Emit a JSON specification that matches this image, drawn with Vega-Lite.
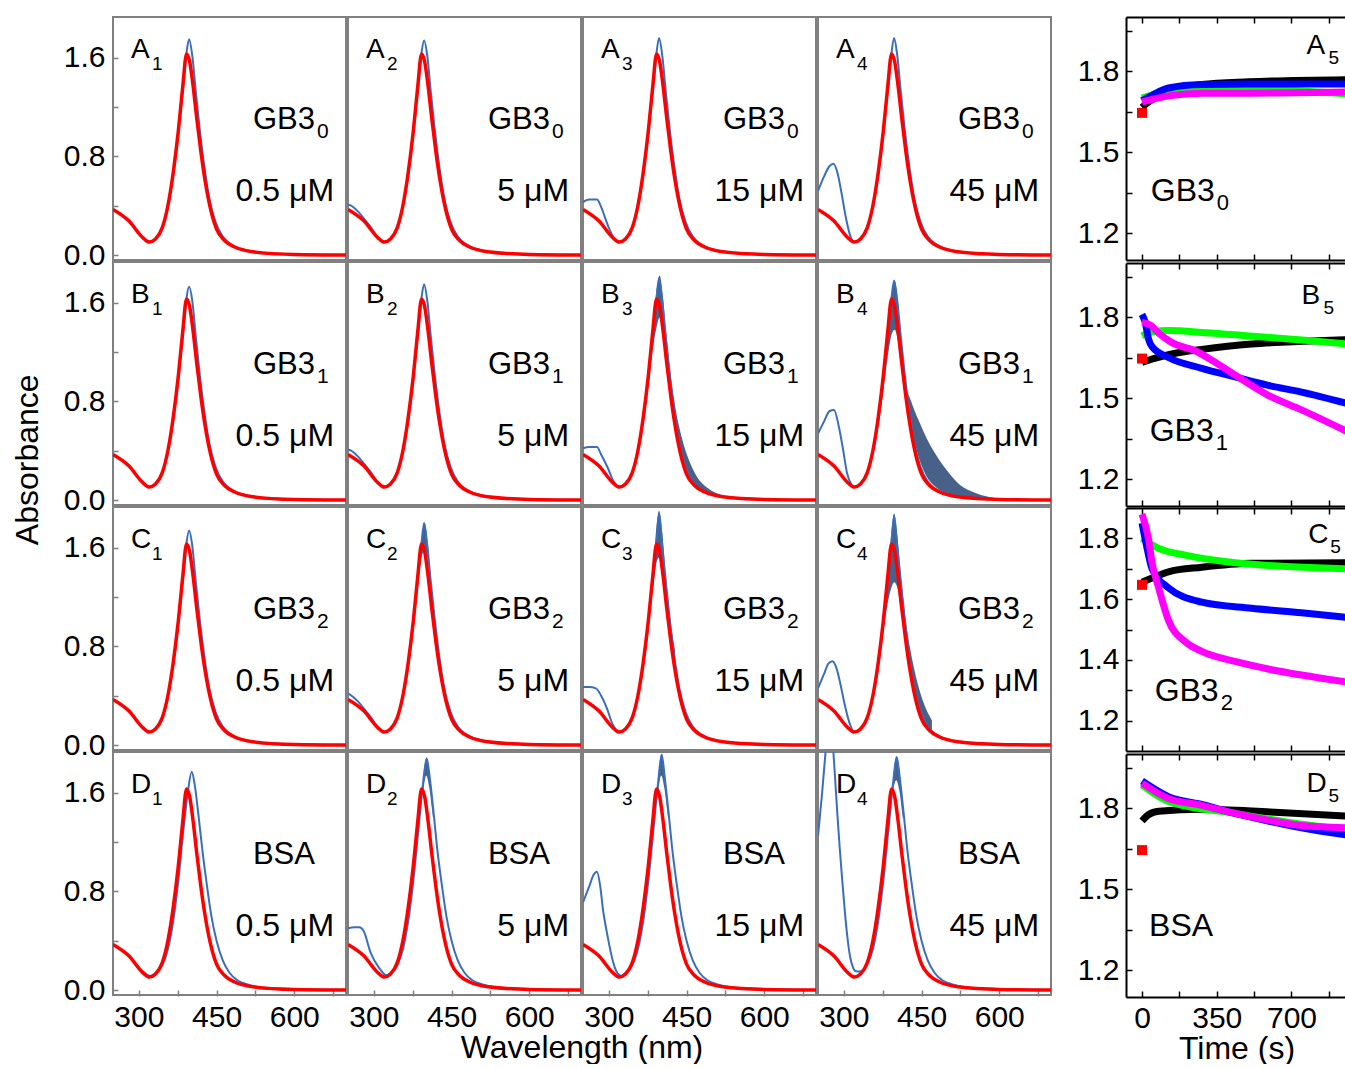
{
"$schema": "https://vega.github.io/schema/vega-lite/v6.json",
"padding": {"left": 12, "top": 15, "right": 0, "bottom": 0},
"title": {"text": "Absorbance", "orient": "left", "anchor": "middle", "fontSize": 32, "fontWeight": "normal", "color": "#000", "font": "Liberation Sans", "offset": 18, "dx": 80},
"config": {
  "font": "Liberation Sans",
  "view": {"stroke": "#808080", "strokeWidth": 2},
  "axis": {"grid": false, "domain": false, "tickSize": -6, "tickWidth": 1.5, "tickColor": "#808080", "labelFontSize": 30, "labelColor": "#000", "labelPadding": 13, "labelOverlap": false, "titleFontSize": 32, "titleFontWeight": "normal", "titleColor": "#000"},
  "header": {"titleFontSize": 32, "titleFontWeight": "normal", "titleColor": "#000", "labels": false},
  "text": {"color": "#000"}
},
"datasets": {
"time": [
{"r":"A","s":"K","t":0,"v":1.665},{"r":"A","s":"K","t":40,"v":1.69},{"r":"A","s":"K","t":124,"v":1.72},{"r":"A","s":"K","t":280,"v":1.75},{"r":"A","s":"K","t":500,"v":1.76},{"r":"A","s":"K","t":960,"v":1.768},
{"r":"A","s":"G","t":0,"v":1.70},{"r":"A","s":"G","t":124,"v":1.725},{"r":"A","s":"G","t":280,"v":1.733},{"r":"A","s":"G","t":500,"v":1.733},{"r":"A","s":"G","t":960,"v":1.715},
{"r":"A","s":"B","t":0,"v":1.69},{"r":"A","s":"B","t":47,"v":1.71},{"r":"A","s":"B","t":124,"v":1.737},{"r":"A","s":"B","t":280,"v":1.75},{"r":"A","s":"B","t":500,"v":1.752},{"r":"A","s":"B","t":960,"v":1.752},
{"r":"A","s":"M","t":0,"v":1.685},{"r":"A","s":"M","t":47,"v":1.695},{"r":"A","s":"M","t":124,"v":1.708},{"r":"A","s":"M","t":280,"v":1.718},{"r":"A","s":"M","t":500,"v":1.718},{"r":"A","s":"M","t":960,"v":1.722},
{"r":"A","s":"S","t":0,"v":1.645},
{"r":"B","s":"K","t":0,"v":1.632},{"r":"B","s":"K","t":50,"v":1.645},{"r":"B","s":"K","t":150,"v":1.665},{"r":"B","s":"K","t":280,"v":1.68},{"r":"B","s":"K","t":513,"v":1.70},{"r":"B","s":"K","t":750,"v":1.71},{"r":"B","s":"K","t":960,"v":1.716},
{"r":"B","s":"G","t":0,"v":1.73},{"r":"B","s":"G","t":50,"v":1.745},{"r":"B","s":"G","t":124,"v":1.75},{"r":"B","s":"G","t":300,"v":1.742},{"r":"B","s":"G","t":500,"v":1.73},{"r":"B","s":"G","t":750,"v":1.715},{"r":"B","s":"G","t":960,"v":1.70},
{"r":"B","s":"B","t":0,"v":1.81},{"r":"B","s":"B","t":15,"v":1.78},{"r":"B","s":"B","t":30,"v":1.72},{"r":"B","s":"B","t":47,"v":1.69},{"r":"B","s":"B","t":124,"v":1.65},{"r":"B","s":"B","t":280,"v":1.61},{"r":"B","s":"B","t":436,"v":1.578},{"r":"B","s":"B","t":591,"v":1.547},{"r":"B","s":"B","t":747,"v":1.522},{"r":"B","s":"B","t":960,"v":1.48},
{"r":"B","s":"M","t":0,"v":1.78},{"r":"B","s":"M","t":40,"v":1.77},{"r":"B","s":"M","t":78,"v":1.74},{"r":"B","s":"M","t":140,"v":1.705},{"r":"B","s":"M","t":249,"v":1.675},{"r":"B","s":"M","t":327,"v":1.64},{"r":"B","s":"M","t":436,"v":1.585},{"r":"B","s":"M","t":591,"v":1.51},{"r":"B","s":"M","t":747,"v":1.456},{"r":"B","s":"M","t":960,"v":1.376},
{"r":"B","s":"S","t":0,"v":1.646},
{"r":"C","s":"K","t":0,"v":1.656},{"r":"C","s":"K","t":50,"v":1.67},{"r":"C","s":"K","t":124,"v":1.69},{"r":"C","s":"K","t":280,"v":1.705},{"r":"C","s":"K","t":513,"v":1.718},{"r":"C","s":"K","t":960,"v":1.72},
{"r":"C","s":"G","t":0,"v":1.80},{"r":"C","s":"G","t":78,"v":1.767},{"r":"C","s":"G","t":202,"v":1.745},{"r":"C","s":"G","t":436,"v":1.72},{"r":"C","s":"G","t":960,"v":1.70},
{"r":"C","s":"B","t":0,"v":1.85},{"r":"C","s":"B","t":20,"v":1.78},{"r":"C","s":"B","t":47,"v":1.70},{"r":"C","s":"B","t":124,"v":1.637},{"r":"C","s":"B","t":280,"v":1.59},{"r":"C","s":"B","t":513,"v":1.57},{"r":"C","s":"B","t":747,"v":1.555},{"r":"C","s":"B","t":960,"v":1.54},
{"r":"C","s":"M","t":0,"v":1.88},{"r":"C","s":"M","t":30,"v":1.80},{"r":"C","s":"M","t":47,"v":1.72},{"r":"C","s":"M","t":78,"v":1.637},{"r":"C","s":"M","t":124,"v":1.53},{"r":"C","s":"M","t":202,"v":1.46},{"r":"C","s":"M","t":280,"v":1.428},{"r":"C","s":"M","t":436,"v":1.395},{"r":"C","s":"M","t":591,"v":1.37},{"r":"C","s":"M","t":747,"v":1.35},{"r":"C","s":"M","t":960,"v":1.327},
{"r":"C","s":"S","t":0,"v":1.647},
{"r":"D","s":"K","t":0,"v":1.752},{"r":"D","s":"K","t":30,"v":1.775},{"r":"D","s":"K","t":78,"v":1.788},{"r":"D","s":"K","t":280,"v":1.795},{"r":"D","s":"K","t":600,"v":1.785},{"r":"D","s":"K","t":960,"v":1.77},
{"r":"D","s":"G","t":0,"v":1.885},{"r":"D","s":"G","t":124,"v":1.824},{"r":"D","s":"G","t":436,"v":1.78},{"r":"D","s":"G","t":747,"v":1.74},{"r":"D","s":"G","t":960,"v":1.72},
{"r":"D","s":"B","t":0,"v":1.90},{"r":"D","s":"B","t":124,"v":1.842},{"r":"D","s":"B","t":280,"v":1.813},{"r":"D","s":"B","t":436,"v":1.78},{"r":"D","s":"B","t":591,"v":1.752},{"r":"D","s":"B","t":747,"v":1.727},{"r":"D","s":"B","t":960,"v":1.70},
{"r":"D","s":"M","t":0,"v":1.892},{"r":"D","s":"M","t":124,"v":1.835},{"r":"D","s":"M","t":280,"v":1.81},{"r":"D","s":"M","t":436,"v":1.78},{"r":"D","s":"M","t":591,"v":1.755},{"r":"D","s":"M","t":747,"v":1.735},{"r":"D","s":"M","t":960,"v":1.727},
{"r":"D","s":"S","t":0,"v":1.644}
],
"spec": [
{"r":"A","c":1,"k":"lab","L":"A","Ls":"1","N":"GB3","Ns":"0","C":"0.5 μM"},
{"r":"A","c":2,"k":"lab","L":"A","Ls":"2","N":"GB3","Ns":"0","C":"5 μM"},
{"r":"A","c":3,"k":"lab","L":"A","Ls":"3","N":"GB3","Ns":"0","C":"15 μM"},
{"r":"A","c":4,"k":"lab","L":"A","Ls":"4","N":"GB3","Ns":"0","C":"45 μM"},
{"r":"B","c":1,"k":"lab","L":"B","Ls":"1","N":"GB3","Ns":"1","C":"0.5 μM"},
{"r":"B","c":2,"k":"lab","L":"B","Ls":"2","N":"GB3","Ns":"1","C":"5 μM"},
{"r":"B","c":3,"k":"lab","L":"B","Ls":"3","N":"GB3","Ns":"1","C":"15 μM"},
{"r":"B","c":4,"k":"lab","L":"B","Ls":"4","N":"GB3","Ns":"1","C":"45 μM"},
{"r":"C","c":1,"k":"lab","L":"C","Ls":"1","N":"GB3","Ns":"2","C":"0.5 μM"},
{"r":"C","c":2,"k":"lab","L":"C","Ls":"2","N":"GB3","Ns":"2","C":"5 μM"},
{"r":"C","c":3,"k":"lab","L":"C","Ls":"3","N":"GB3","Ns":"2","C":"15 μM"},
{"r":"C","c":4,"k":"lab","L":"C","Ls":"4","N":"GB3","Ns":"2","C":"45 μM"},
{"r":"D","c":1,"k":"lab","L":"D","Ls":"1","N":"BSA","Ns":"","C":"0.5 μM"},
{"r":"D","c":2,"k":"lab","L":"D","Ls":"2","N":"BSA","Ns":"","C":"5 μM"},
{"r":"D","c":3,"k":"lab","L":"D","Ls":"3","N":"BSA","Ns":"","C":"15 μM"},
{"r":"D","c":4,"k":"lab","L":"D","Ls":"4","N":"BSA","Ns":"","C":"45 μM"},

{"r":"B","c":3,"k":"band","x":350,"y":0.30,"y2":0.28},{"r":"B","c":3,"k":"band","x":366,"y":0.66,"y2":0.60},{"r":"B","c":3,"k":"band","x":376,"y":1.02,"y2":0.92},{"r":"B","c":3,"k":"band","x":386,"y":1.44,"y2":1.26},{"r":"B","c":3,"k":"band","x":392,"y":1.70,"y2":1.40},{"r":"B","c":3,"k":"band","x":398,"y":1.82,"y2":1.48},{"r":"B","c":3,"k":"band","x":404,"y":1.66,"y2":1.40},{"r":"B","c":3,"k":"band","x":410,"y":1.38,"y2":1.15},{"r":"B","c":3,"k":"band","x":418,"y":1.06,"y2":0.86},{"r":"B","c":3,"k":"band","x":428,"y":0.76,"y2":0.58},{"r":"B","c":3,"k":"band","x":440,"y":0.52,"y2":0.36},{"r":"B","c":3,"k":"band","x":455,"y":0.32,"y2":0.18},{"r":"B","c":3,"k":"band","x":470,"y":0.19,"y2":0.11},{"r":"B","c":3,"k":"band","x":490,"y":0.10,"y2":0.06},{"r":"B","c":3,"k":"band","x":520,"y":0.04,"y2":0.025},
{"r":"B","c":4,"k":"band","x":340,"y":0.20,"y2":0.18},{"r":"B","c":4,"k":"band","x":356,"y":0.40,"y2":0.36},{"r":"B","c":4,"k":"band","x":366,"y":0.66,"y2":0.58},{"r":"B","c":4,"k":"band","x":376,"y":1.02,"y2":0.88},{"r":"B","c":4,"k":"band","x":386,"y":1.42,"y2":1.20},{"r":"B","c":4,"k":"band","x":392,"y":1.66,"y2":1.34},{"r":"B","c":4,"k":"band","x":398,"y":1.78,"y2":1.38},{"r":"B","c":4,"k":"band","x":404,"y":1.62,"y2":1.30},{"r":"B","c":4,"k":"band","x":410,"y":1.32,"y2":1.10},{"r":"B","c":4,"k":"band","x":418,"y":0.98,"y2":0.84},{"r":"B","c":4,"k":"band","x":430,"y":0.80,"y2":0.58},{"r":"B","c":4,"k":"band","x":445,"y":0.64,"y2":0.34},{"r":"B","c":4,"k":"band","x":460,"y":0.50,"y2":0.19},{"r":"B","c":4,"k":"band","x":476,"y":0.38,"y2":0.11},{"r":"B","c":4,"k":"band","x":490,"y":0.29,"y2":0.07},{"r":"B","c":4,"k":"band","x":503,"y":0.22,"y2":0.05},{"r":"B","c":4,"k":"band","x":525,"y":0.12,"y2":0.03},{"r":"B","c":4,"k":"band","x":553,"y":0.06,"y2":0.015},{"r":"B","c":4,"k":"band","x":600,"y":0.01,"y2":0.005},
{"r":"C","c":2,"k":"band","x":386,"y":1.40,"y2":1.32},{"r":"C","c":2,"k":"band","x":392,"y":1.66,"y2":1.52},{"r":"C","c":2,"k":"band","x":398,"y":1.80,"y2":1.58},{"r":"C","c":2,"k":"band","x":404,"y":1.64,"y2":1.50},{"r":"C","c":2,"k":"band","x":410,"y":1.35,"y2":1.25},{"r":"C","c":2,"k":"band","x":418,"y":1.02,"y2":0.95},
{"r":"C","c":3,"k":"band","x":376,"y":1.02,"y2":0.95},{"r":"C","c":3,"k":"band","x":386,"y":1.45,"y2":1.30},{"r":"C","c":3,"k":"band","x":392,"y":1.78,"y2":1.48},{"r":"C","c":3,"k":"band","x":397,"y":1.90,"y2":1.52},{"r":"C","c":3,"k":"band","x":403,"y":1.72,"y2":1.46},{"r":"C","c":3,"k":"band","x":410,"y":1.38,"y2":1.18},{"r":"C","c":3,"k":"band","x":418,"y":1.04,"y2":0.92},{"r":"C","c":3,"k":"band","x":428,"y":0.76,"y2":0.64},
{"r":"C","c":4,"k":"band","x":366,"y":0.66,"y2":0.58},{"r":"C","c":4,"k":"band","x":376,"y":1.03,"y2":0.90},{"r":"C","c":4,"k":"band","x":386,"y":1.46,"y2":1.18},{"r":"C","c":4,"k":"band","x":392,"y":1.74,"y2":1.28},{"r":"C","c":4,"k":"band","x":397,"y":1.88,"y2":1.32},{"r":"C","c":4,"k":"band","x":403,"y":1.70,"y2":1.28},{"r":"C","c":4,"k":"band","x":410,"y":1.38,"y2":1.10},{"r":"C","c":4,"k":"band","x":418,"y":1.06,"y2":0.86},{"r":"C","c":4,"k":"band","x":428,"y":0.78,"y2":0.60},{"r":"C","c":4,"k":"band","x":440,"y":0.54,"y2":0.38},{"r":"C","c":4,"k":"band","x":455,"y":0.33,"y2":0.20},{"r":"C","c":4,"k":"band","x":470,"y":0.20,"y2":0.11},
{"r":"D","c":2,"k":"band","x":395,"y":1.68,"y2":1.60},{"r":"D","c":2,"k":"band","x":401,"y":1.88,"y2":1.74},{"r":"D","c":2,"k":"band","x":407,"y":1.76,"y2":1.64},{"r":"D","c":2,"k":"band","x":414,"y":1.48,"y2":1.40},
{"r":"D","c":3,"k":"band","x":395,"y":1.70,"y2":1.60},{"r":"D","c":3,"k":"band","x":401,"y":1.91,"y2":1.74},{"r":"D","c":3,"k":"band","x":407,"y":1.78,"y2":1.64},{"r":"D","c":3,"k":"band","x":414,"y":1.50,"y2":1.40},
{"r":"D","c":4,"k":"band","x":395,"y":1.72,"y2":1.62},{"r":"D","c":4,"k":"band","x":401,"y":1.89,"y2":1.70},{"r":"D","c":4,"k":"band","x":407,"y":1.76,"y2":1.62},{"r":"D","c":4,"k":"band","x":414,"y":1.48,"y2":1.38},

{"r":"A","c":1,"k":"blue","x":250,"y":0.37},{"r":"A","c":1,"k":"blue","x":280,"y":0.28},{"r":"A","c":1,"k":"blue","x":308,"y":0.14},{"r":"A","c":1,"k":"blue","x":320,"y":0.105},{"r":"A","c":1,"k":"blue","x":332,"y":0.13},{"r":"A","c":1,"k":"blue","x":345,"y":0.22},{"r":"A","c":1,"k":"blue","x":356,"y":0.40},{"r":"A","c":1,"k":"blue","x":366,"y":0.64},{"r":"A","c":1,"k":"blue","x":376,"y":0.98},{"r":"A","c":1,"k":"blue","x":386,"y":1.38},{"r":"A","c":1,"k":"blue","x":392,"y":1.64},{"r":"A","c":1,"k":"blue","x":397,"y":1.75},{"r":"A","c":1,"k":"blue","x":403,"y":1.62},{"r":"A","c":1,"k":"blue","x":410,"y":1.32},{"r":"A","c":1,"k":"blue","x":418,"y":1.0},{"r":"A","c":1,"k":"blue","x":426,"y":0.73},{"r":"A","c":1,"k":"blue","x":436,"y":0.46},{"r":"A","c":1,"k":"blue","x":448,"y":0.27},{"r":"A","c":1,"k":"blue","x":462,"y":0.15},{"r":"A","c":1,"k":"blue","x":480,"y":0.08},{"r":"A","c":1,"k":"blue","x":510,"y":0.038},{"r":"A","c":1,"k":"blue","x":560,"y":0.012},{"r":"A","c":1,"k":"blue","x":700,"y":0},
{"r":"A","c":2,"k":"blue","x":250,"y":0.41},{"r":"A","c":2,"k":"blue","x":260,"y":0.39},{"r":"A","c":2,"k":"blue","x":270,"y":0.35},{"r":"A","c":2,"k":"blue","x":282,"y":0.29},{"r":"A","c":2,"k":"blue","x":295,"y":0.22},{"r":"A","c":2,"k":"blue","x":308,"y":0.14},{"r":"A","c":2,"k":"blue","x":320,"y":0.105},{"r":"A","c":2,"k":"blue","x":332,"y":0.13},{"r":"A","c":2,"k":"blue","x":345,"y":0.22},{"r":"A","c":2,"k":"blue","x":356,"y":0.40},{"r":"A","c":2,"k":"blue","x":366,"y":0.64},{"r":"A","c":2,"k":"blue","x":376,"y":0.98},{"r":"A","c":2,"k":"blue","x":386,"y":1.38},{"r":"A","c":2,"k":"blue","x":392,"y":1.64},{"r":"A","c":2,"k":"blue","x":397,"y":1.74},{"r":"A","c":2,"k":"blue","x":403,"y":1.62},{"r":"A","c":2,"k":"blue","x":410,"y":1.32},{"r":"A","c":2,"k":"blue","x":418,"y":1.0},{"r":"A","c":2,"k":"blue","x":426,"y":0.73},{"r":"A","c":2,"k":"blue","x":436,"y":0.46},{"r":"A","c":2,"k":"blue","x":448,"y":0.27},{"r":"A","c":2,"k":"blue","x":462,"y":0.15},{"r":"A","c":2,"k":"blue","x":480,"y":0.08},{"r":"A","c":2,"k":"blue","x":510,"y":0.038},{"r":"A","c":2,"k":"blue","x":560,"y":0.012},{"r":"A","c":2,"k":"blue","x":700,"y":0},
{"r":"A","c":3,"k":"blue","x":250,"y":0.43},{"r":"A","c":3,"k":"blue","x":262,"y":0.45},{"r":"A","c":3,"k":"blue","x":277,"y":0.45},{"r":"A","c":3,"k":"blue","x":285,"y":0.39},{"r":"A","c":3,"k":"blue","x":292,"y":0.31},{"r":"A","c":3,"k":"blue","x":300,"y":0.22},{"r":"A","c":3,"k":"blue","x":308,"y":0.15},{"r":"A","c":3,"k":"blue","x":320,"y":0.105},{"r":"A","c":3,"k":"blue","x":332,"y":0.13},{"r":"A","c":3,"k":"blue","x":345,"y":0.22},{"r":"A","c":3,"k":"blue","x":356,"y":0.40},{"r":"A","c":3,"k":"blue","x":366,"y":0.64},{"r":"A","c":3,"k":"blue","x":376,"y":0.98},{"r":"A","c":3,"k":"blue","x":386,"y":1.38},{"r":"A","c":3,"k":"blue","x":392,"y":1.64},{"r":"A","c":3,"k":"blue","x":397,"y":1.76},{"r":"A","c":3,"k":"blue","x":403,"y":1.62},{"r":"A","c":3,"k":"blue","x":410,"y":1.32},{"r":"A","c":3,"k":"blue","x":418,"y":1.0},{"r":"A","c":3,"k":"blue","x":426,"y":0.73},{"r":"A","c":3,"k":"blue","x":436,"y":0.46},{"r":"A","c":3,"k":"blue","x":448,"y":0.27},{"r":"A","c":3,"k":"blue","x":462,"y":0.15},{"r":"A","c":3,"k":"blue","x":480,"y":0.08},{"r":"A","c":3,"k":"blue","x":510,"y":0.038},{"r":"A","c":3,"k":"blue","x":560,"y":0.012},{"r":"A","c":3,"k":"blue","x":700,"y":0},
{"r":"A","c":4,"k":"blue","x":250,"y":0.52},{"r":"A","c":4,"k":"blue","x":262,"y":0.64},{"r":"A","c":4,"k":"blue","x":272,"y":0.72},{"r":"A","c":4,"k":"blue","x":280,"y":0.74},{"r":"A","c":4,"k":"blue","x":288,"y":0.66},{"r":"A","c":4,"k":"blue","x":296,"y":0.49},{"r":"A","c":4,"k":"blue","x":304,"y":0.30},{"r":"A","c":4,"k":"blue","x":312,"y":0.16},{"r":"A","c":4,"k":"blue","x":320,"y":0.105},{"r":"A","c":4,"k":"blue","x":332,"y":0.13},{"r":"A","c":4,"k":"blue","x":345,"y":0.22},{"r":"A","c":4,"k":"blue","x":356,"y":0.40},{"r":"A","c":4,"k":"blue","x":366,"y":0.64},{"r":"A","c":4,"k":"blue","x":376,"y":0.98},{"r":"A","c":4,"k":"blue","x":386,"y":1.38},{"r":"A","c":4,"k":"blue","x":392,"y":1.64},{"r":"A","c":4,"k":"blue","x":397,"y":1.76},{"r":"A","c":4,"k":"blue","x":403,"y":1.62},{"r":"A","c":4,"k":"blue","x":410,"y":1.32},{"r":"A","c":4,"k":"blue","x":418,"y":1.0},{"r":"A","c":4,"k":"blue","x":426,"y":0.73},{"r":"A","c":4,"k":"blue","x":436,"y":0.46},{"r":"A","c":4,"k":"blue","x":448,"y":0.27},{"r":"A","c":4,"k":"blue","x":462,"y":0.15},{"r":"A","c":4,"k":"blue","x":480,"y":0.08},{"r":"A","c":4,"k":"blue","x":510,"y":0.038},{"r":"A","c":4,"k":"blue","x":560,"y":0.012},{"r":"A","c":4,"k":"blue","x":700,"y":0},
{"r":"B","c":1,"k":"blue","x":250,"y":0.37},{"r":"B","c":1,"k":"blue","x":280,"y":0.28},{"r":"B","c":1,"k":"blue","x":308,"y":0.14},{"r":"B","c":1,"k":"blue","x":320,"y":0.105},{"r":"B","c":1,"k":"blue","x":332,"y":0.13},{"r":"B","c":1,"k":"blue","x":345,"y":0.22},{"r":"B","c":1,"k":"blue","x":356,"y":0.40},{"r":"B","c":1,"k":"blue","x":366,"y":0.64},{"r":"B","c":1,"k":"blue","x":376,"y":0.98},{"r":"B","c":1,"k":"blue","x":386,"y":1.38},{"r":"B","c":1,"k":"blue","x":392,"y":1.64},{"r":"B","c":1,"k":"blue","x":397,"y":1.73},{"r":"B","c":1,"k":"blue","x":403,"y":1.62},{"r":"B","c":1,"k":"blue","x":410,"y":1.32},{"r":"B","c":1,"k":"blue","x":418,"y":1.0},{"r":"B","c":1,"k":"blue","x":426,"y":0.73},{"r":"B","c":1,"k":"blue","x":436,"y":0.46},{"r":"B","c":1,"k":"blue","x":448,"y":0.27},{"r":"B","c":1,"k":"blue","x":462,"y":0.15},{"r":"B","c":1,"k":"blue","x":480,"y":0.08},{"r":"B","c":1,"k":"blue","x":510,"y":0.038},{"r":"B","c":1,"k":"blue","x":560,"y":0.012},{"r":"B","c":1,"k":"blue","x":700,"y":0},
{"r":"B","c":2,"k":"blue","x":250,"y":0.41},{"r":"B","c":2,"k":"blue","x":260,"y":0.39},{"r":"B","c":2,"k":"blue","x":270,"y":0.35},{"r":"B","c":2,"k":"blue","x":282,"y":0.29},{"r":"B","c":2,"k":"blue","x":295,"y":0.22},{"r":"B","c":2,"k":"blue","x":308,"y":0.14},{"r":"B","c":2,"k":"blue","x":320,"y":0.105},{"r":"B","c":2,"k":"blue","x":332,"y":0.13},{"r":"B","c":2,"k":"blue","x":345,"y":0.22},{"r":"B","c":2,"k":"blue","x":356,"y":0.40},{"r":"B","c":2,"k":"blue","x":366,"y":0.64},{"r":"B","c":2,"k":"blue","x":376,"y":0.98},{"r":"B","c":2,"k":"blue","x":386,"y":1.38},{"r":"B","c":2,"k":"blue","x":392,"y":1.64},{"r":"B","c":2,"k":"blue","x":397,"y":1.75},{"r":"B","c":2,"k":"blue","x":403,"y":1.62},{"r":"B","c":2,"k":"blue","x":410,"y":1.32},{"r":"B","c":2,"k":"blue","x":418,"y":1.0},{"r":"B","c":2,"k":"blue","x":426,"y":0.73},{"r":"B","c":2,"k":"blue","x":436,"y":0.46},{"r":"B","c":2,"k":"blue","x":448,"y":0.27},{"r":"B","c":2,"k":"blue","x":462,"y":0.15},{"r":"B","c":2,"k":"blue","x":480,"y":0.08},{"r":"B","c":2,"k":"blue","x":510,"y":0.038},{"r":"B","c":2,"k":"blue","x":560,"y":0.012},{"r":"B","c":2,"k":"blue","x":700,"y":0},
{"r":"B","c":3,"k":"blue","x":250,"y":0.42},{"r":"B","c":3,"k":"blue","x":262,"y":0.43},{"r":"B","c":3,"k":"blue","x":277,"y":0.43},{"r":"B","c":3,"k":"blue","x":285,"y":0.37},{"r":"B","c":3,"k":"blue","x":298,"y":0.26},{"r":"B","c":3,"k":"blue","x":308,"y":0.16},{"r":"B","c":3,"k":"blue","x":320,"y":0.105},{"r":"B","c":3,"k":"blue","x":332,"y":0.13},{"r":"B","c":3,"k":"blue","x":345,"y":0.22},{"r":"B","c":3,"k":"blue","x":356,"y":0.40},{"r":"B","c":3,"k":"blue","x":366,"y":0.64},{"r":"B","c":3,"k":"blue","x":376,"y":0.98},{"r":"B","c":3,"k":"blue","x":386,"y":1.38},{"r":"B","c":3,"k":"blue","x":392,"y":1.64},{"r":"B","c":3,"k":"blue","x":397,"y":1.80},{"r":"B","c":3,"k":"blue","x":403,"y":1.62},{"r":"B","c":3,"k":"blue","x":410,"y":1.32},{"r":"B","c":3,"k":"blue","x":418,"y":1.0},{"r":"B","c":3,"k":"blue","x":426,"y":0.73},{"r":"B","c":3,"k":"blue","x":436,"y":0.46},{"r":"B","c":3,"k":"blue","x":448,"y":0.27},{"r":"B","c":3,"k":"blue","x":462,"y":0.15},{"r":"B","c":3,"k":"blue","x":480,"y":0.08},{"r":"B","c":3,"k":"blue","x":510,"y":0.038},{"r":"B","c":3,"k":"blue","x":560,"y":0.012},{"r":"B","c":3,"k":"blue","x":700,"y":0},
{"r":"B","c":4,"k":"blue","x":250,"y":0.54},{"r":"B","c":4,"k":"blue","x":262,"y":0.64},{"r":"B","c":4,"k":"blue","x":272,"y":0.72},{"r":"B","c":4,"k":"blue","x":281,"y":0.73},{"r":"B","c":4,"k":"blue","x":290,"y":0.60},{"r":"B","c":4,"k":"blue","x":298,"y":0.42},{"r":"B","c":4,"k":"blue","x":306,"y":0.22},{"r":"B","c":4,"k":"blue","x":314,"y":0.13},{"r":"B","c":4,"k":"blue","x":320,"y":0.105},{"r":"B","c":4,"k":"blue","x":332,"y":0.13},{"r":"B","c":4,"k":"blue","x":345,"y":0.22},{"r":"B","c":4,"k":"blue","x":356,"y":0.40},{"r":"B","c":4,"k":"blue","x":366,"y":0.64},{"r":"B","c":4,"k":"blue","x":376,"y":0.98},{"r":"B","c":4,"k":"blue","x":386,"y":1.38},{"r":"B","c":4,"k":"blue","x":392,"y":1.64},{"r":"B","c":4,"k":"blue","x":397,"y":1.78},{"r":"B","c":4,"k":"blue","x":403,"y":1.62},{"r":"B","c":4,"k":"blue","x":410,"y":1.32},{"r":"B","c":4,"k":"blue","x":418,"y":1.0},{"r":"B","c":4,"k":"blue","x":426,"y":0.73},{"r":"B","c":4,"k":"blue","x":436,"y":0.46},{"r":"B","c":4,"k":"blue","x":448,"y":0.27},{"r":"B","c":4,"k":"blue","x":462,"y":0.15},{"r":"B","c":4,"k":"blue","x":480,"y":0.08},{"r":"B","c":4,"k":"blue","x":510,"y":0.038},{"r":"B","c":4,"k":"blue","x":560,"y":0.012},{"r":"B","c":4,"k":"blue","x":700,"y":0},
{"r":"C","c":1,"k":"blue","x":250,"y":0.37},{"r":"C","c":1,"k":"blue","x":280,"y":0.28},{"r":"C","c":1,"k":"blue","x":308,"y":0.14},{"r":"C","c":1,"k":"blue","x":320,"y":0.105},{"r":"C","c":1,"k":"blue","x":332,"y":0.13},{"r":"C","c":1,"k":"blue","x":345,"y":0.22},{"r":"C","c":1,"k":"blue","x":356,"y":0.40},{"r":"C","c":1,"k":"blue","x":366,"y":0.64},{"r":"C","c":1,"k":"blue","x":376,"y":0.98},{"r":"C","c":1,"k":"blue","x":386,"y":1.38},{"r":"C","c":1,"k":"blue","x":392,"y":1.64},{"r":"C","c":1,"k":"blue","x":397,"y":1.74},{"r":"C","c":1,"k":"blue","x":403,"y":1.62},{"r":"C","c":1,"k":"blue","x":410,"y":1.32},{"r":"C","c":1,"k":"blue","x":418,"y":1.0},{"r":"C","c":1,"k":"blue","x":426,"y":0.73},{"r":"C","c":1,"k":"blue","x":436,"y":0.46},{"r":"C","c":1,"k":"blue","x":448,"y":0.27},{"r":"C","c":1,"k":"blue","x":462,"y":0.15},{"r":"C","c":1,"k":"blue","x":480,"y":0.08},{"r":"C","c":1,"k":"blue","x":510,"y":0.038},{"r":"C","c":1,"k":"blue","x":560,"y":0.012},{"r":"C","c":1,"k":"blue","x":700,"y":0},
{"r":"C","c":2,"k":"blue","x":250,"y":0.42},{"r":"C","c":2,"k":"blue","x":260,"y":0.39},{"r":"C","c":2,"k":"blue","x":270,"y":0.35},{"r":"C","c":2,"k":"blue","x":282,"y":0.29},{"r":"C","c":2,"k":"blue","x":295,"y":0.22},{"r":"C","c":2,"k":"blue","x":308,"y":0.14},{"r":"C","c":2,"k":"blue","x":320,"y":0.105},{"r":"C","c":2,"k":"blue","x":332,"y":0.13},{"r":"C","c":2,"k":"blue","x":345,"y":0.22},{"r":"C","c":2,"k":"blue","x":356,"y":0.40},{"r":"C","c":2,"k":"blue","x":366,"y":0.64},{"r":"C","c":2,"k":"blue","x":376,"y":0.98},{"r":"C","c":2,"k":"blue","x":386,"y":1.38},{"r":"C","c":2,"k":"blue","x":392,"y":1.64},{"r":"C","c":2,"k":"blue","x":397,"y":1.80},{"r":"C","c":2,"k":"blue","x":403,"y":1.62},{"r":"C","c":2,"k":"blue","x":410,"y":1.32},{"r":"C","c":2,"k":"blue","x":418,"y":1.0},{"r":"C","c":2,"k":"blue","x":426,"y":0.73},{"r":"C","c":2,"k":"blue","x":436,"y":0.46},{"r":"C","c":2,"k":"blue","x":448,"y":0.27},{"r":"C","c":2,"k":"blue","x":462,"y":0.15},{"r":"C","c":2,"k":"blue","x":480,"y":0.08},{"r":"C","c":2,"k":"blue","x":510,"y":0.038},{"r":"C","c":2,"k":"blue","x":560,"y":0.012},{"r":"C","c":2,"k":"blue","x":700,"y":0},
{"r":"C","c":3,"k":"blue","x":250,"y":0.47},{"r":"C","c":3,"k":"blue","x":262,"y":0.47},{"r":"C","c":3,"k":"blue","x":275,"y":0.46},{"r":"C","c":3,"k":"blue","x":285,"y":0.40},{"r":"C","c":3,"k":"blue","x":296,"y":0.30},{"r":"C","c":3,"k":"blue","x":306,"y":0.18},{"r":"C","c":3,"k":"blue","x":320,"y":0.105},{"r":"C","c":3,"k":"blue","x":332,"y":0.13},{"r":"C","c":3,"k":"blue","x":345,"y":0.22},{"r":"C","c":3,"k":"blue","x":356,"y":0.40},{"r":"C","c":3,"k":"blue","x":366,"y":0.64},{"r":"C","c":3,"k":"blue","x":376,"y":0.98},{"r":"C","c":3,"k":"blue","x":386,"y":1.38},{"r":"C","c":3,"k":"blue","x":392,"y":1.64},{"r":"C","c":3,"k":"blue","x":397,"y":1.88},{"r":"C","c":3,"k":"blue","x":403,"y":1.62},{"r":"C","c":3,"k":"blue","x":410,"y":1.32},{"r":"C","c":3,"k":"blue","x":418,"y":1.0},{"r":"C","c":3,"k":"blue","x":426,"y":0.73},{"r":"C","c":3,"k":"blue","x":436,"y":0.46},{"r":"C","c":3,"k":"blue","x":448,"y":0.27},{"r":"C","c":3,"k":"blue","x":462,"y":0.15},{"r":"C","c":3,"k":"blue","x":480,"y":0.08},{"r":"C","c":3,"k":"blue","x":510,"y":0.038},{"r":"C","c":3,"k":"blue","x":560,"y":0.012},{"r":"C","c":3,"k":"blue","x":700,"y":0},
{"r":"C","c":4,"k":"blue","x":250,"y":0.46},{"r":"C","c":4,"k":"blue","x":262,"y":0.58},{"r":"C","c":4,"k":"blue","x":270,"y":0.66},{"r":"C","c":4,"k":"blue","x":278,"y":0.68},{"r":"C","c":4,"k":"blue","x":286,"y":0.62},{"r":"C","c":4,"k":"blue","x":294,"y":0.48},{"r":"C","c":4,"k":"blue","x":302,"y":0.32},{"r":"C","c":4,"k":"blue","x":310,"y":0.19},{"r":"C","c":4,"k":"blue","x":320,"y":0.105},{"r":"C","c":4,"k":"blue","x":332,"y":0.13},{"r":"C","c":4,"k":"blue","x":345,"y":0.22},{"r":"C","c":4,"k":"blue","x":356,"y":0.40},{"r":"C","c":4,"k":"blue","x":366,"y":0.64},{"r":"C","c":4,"k":"blue","x":376,"y":0.98},{"r":"C","c":4,"k":"blue","x":386,"y":1.38},{"r":"C","c":4,"k":"blue","x":392,"y":1.64},{"r":"C","c":4,"k":"blue","x":397,"y":1.86},{"r":"C","c":4,"k":"blue","x":403,"y":1.62},{"r":"C","c":4,"k":"blue","x":410,"y":1.32},{"r":"C","c":4,"k":"blue","x":418,"y":1.0},{"r":"C","c":4,"k":"blue","x":426,"y":0.73},{"r":"C","c":4,"k":"blue","x":436,"y":0.46},{"r":"C","c":4,"k":"blue","x":448,"y":0.27},{"r":"C","c":4,"k":"blue","x":462,"y":0.15},{"r":"C","c":4,"k":"blue","x":480,"y":0.08},{"r":"C","c":4,"k":"blue","x":510,"y":0.038},{"r":"C","c":4,"k":"blue","x":560,"y":0.012},{"r":"C","c":4,"k":"blue","x":700,"y":0},
{"r":"D","c":1,"k":"blue","x":250,"y":0.37},{"r":"D","c":1,"k":"blue","x":280,"y":0.28},{"r":"D","c":1,"k":"blue","x":308,"y":0.15},{"r":"D","c":1,"k":"blue","x":322,"y":0.115},{"r":"D","c":1,"k":"blue","x":330,"y":0.13},{"r":"D","c":1,"k":"blue","x":345,"y":0.20},{"r":"D","c":1,"k":"blue","x":356,"y":0.33},{"r":"D","c":1,"k":"blue","x":366,"y":0.55},{"r":"D","c":1,"k":"blue","x":376,"y":0.88},{"r":"D","c":1,"k":"blue","x":386,"y":1.30},{"r":"D","c":1,"k":"blue","x":395,"y":1.62},{"r":"D","c":1,"k":"blue","x":402,"y":1.77},{"r":"D","c":1,"k":"blue","x":408,"y":1.66},{"r":"D","c":1,"k":"blue","x":415,"y":1.42},{"r":"D","c":1,"k":"blue","x":423,"y":1.12},{"r":"D","c":1,"k":"blue","x":431,"y":0.86},{"r":"D","c":1,"k":"blue","x":440,"y":0.60},{"r":"D","c":1,"k":"blue","x":450,"y":0.40},{"r":"D","c":1,"k":"blue","x":462,"y":0.24},{"r":"D","c":1,"k":"blue","x":475,"y":0.14},{"r":"D","c":1,"k":"blue","x":490,"y":0.08},{"r":"D","c":1,"k":"blue","x":510,"y":0.045},{"r":"D","c":1,"k":"blue","x":550,"y":0.016},{"r":"D","c":1,"k":"blue","x":700,"y":0},
{"r":"D","c":2,"k":"blue","x":250,"y":0.50},{"r":"D","c":2,"k":"blue","x":262,"y":0.51},{"r":"D","c":2,"k":"blue","x":272,"y":0.51},{"r":"D","c":2,"k":"blue","x":280,"y":0.48},{"r":"D","c":2,"k":"blue","x":294,"y":0.30},{"r":"D","c":2,"k":"blue","x":310,"y":0.18},{"r":"D","c":2,"k":"blue","x":324,"y":0.12},{"r":"D","c":2,"k":"blue","x":330,"y":0.13},{"r":"D","c":2,"k":"blue","x":345,"y":0.20},{"r":"D","c":2,"k":"blue","x":356,"y":0.33},{"r":"D","c":2,"k":"blue","x":366,"y":0.55},{"r":"D","c":2,"k":"blue","x":376,"y":0.88},{"r":"D","c":2,"k":"blue","x":386,"y":1.30},{"r":"D","c":2,"k":"blue","x":395,"y":1.68},{"r":"D","c":2,"k":"blue","x":402,"y":1.88},{"r":"D","c":2,"k":"blue","x":408,"y":1.72},{"r":"D","c":2,"k":"blue","x":415,"y":1.45},{"r":"D","c":2,"k":"blue","x":423,"y":1.12},{"r":"D","c":2,"k":"blue","x":431,"y":0.86},{"r":"D","c":2,"k":"blue","x":440,"y":0.60},{"r":"D","c":2,"k":"blue","x":450,"y":0.40},{"r":"D","c":2,"k":"blue","x":462,"y":0.24},{"r":"D","c":2,"k":"blue","x":475,"y":0.14},{"r":"D","c":2,"k":"blue","x":490,"y":0.08},{"r":"D","c":2,"k":"blue","x":510,"y":0.045},{"r":"D","c":2,"k":"blue","x":550,"y":0.016},{"r":"D","c":2,"k":"blue","x":700,"y":0},
{"r":"D","c":3,"k":"blue","x":250,"y":0.71},{"r":"D","c":3,"k":"blue","x":262,"y":0.84},{"r":"D","c":3,"k":"blue","x":270,"y":0.93},{"r":"D","c":3,"k":"blue","x":277,"y":0.96},{"r":"D","c":3,"k":"blue","x":283,"y":0.85},{"r":"D","c":3,"k":"blue","x":289,"y":0.64},{"r":"D","c":3,"k":"blue","x":296,"y":0.47},{"r":"D","c":3,"k":"blue","x":302,"y":0.34},{"r":"D","c":3,"k":"blue","x":310,"y":0.20},{"r":"D","c":3,"k":"blue","x":318,"y":0.13},{"r":"D","c":3,"k":"blue","x":325,"y":0.115},{"r":"D","c":3,"k":"blue","x":330,"y":0.13},{"r":"D","c":3,"k":"blue","x":345,"y":0.20},{"r":"D","c":3,"k":"blue","x":356,"y":0.33},{"r":"D","c":3,"k":"blue","x":366,"y":0.55},{"r":"D","c":3,"k":"blue","x":376,"y":0.88},{"r":"D","c":3,"k":"blue","x":386,"y":1.30},{"r":"D","c":3,"k":"blue","x":395,"y":1.68},{"r":"D","c":3,"k":"blue","x":402,"y":1.91},{"r":"D","c":3,"k":"blue","x":408,"y":1.72},{"r":"D","c":3,"k":"blue","x":415,"y":1.45},{"r":"D","c":3,"k":"blue","x":423,"y":1.12},{"r":"D","c":3,"k":"blue","x":431,"y":0.86},{"r":"D","c":3,"k":"blue","x":440,"y":0.60},{"r":"D","c":3,"k":"blue","x":450,"y":0.40},{"r":"D","c":3,"k":"blue","x":462,"y":0.24},{"r":"D","c":3,"k":"blue","x":475,"y":0.14},{"r":"D","c":3,"k":"blue","x":490,"y":0.08},{"r":"D","c":3,"k":"blue","x":510,"y":0.045},{"r":"D","c":3,"k":"blue","x":550,"y":0.016},{"r":"D","c":3,"k":"blue","x":700,"y":0},
{"r":"D","c":4,"k":"blue","x":250,"y":1.25},{"r":"D","c":4,"k":"blue","x":258,"y":1.60},{"r":"D","c":4,"k":"blue","x":264,"y":1.90},{"r":"D","c":4,"k":"blue","x":270,"y":2.15},{"r":"D","c":4,"k":"blue","x":276,"y":2.10},{"r":"D","c":4,"k":"blue","x":281,"y":1.85},{"r":"D","c":4,"k":"blue","x":287,"y":1.45},{"r":"D","c":4,"k":"blue","x":292,"y":1.15},{"r":"D","c":4,"k":"blue","x":297,"y":0.88},{"r":"D","c":4,"k":"blue","x":302,"y":0.63},{"r":"D","c":4,"k":"blue","x":307,"y":0.42},{"r":"D","c":4,"k":"blue","x":312,"y":0.27},{"r":"D","c":4,"k":"blue","x":317,"y":0.19},{"r":"D","c":4,"k":"blue","x":322,"y":0.155},{"r":"D","c":4,"k":"blue","x":330,"y":0.15},{"r":"D","c":4,"k":"blue","x":345,"y":0.21},{"r":"D","c":4,"k":"blue","x":356,"y":0.33},{"r":"D","c":4,"k":"blue","x":366,"y":0.55},{"r":"D","c":4,"k":"blue","x":376,"y":0.88},{"r":"D","c":4,"k":"blue","x":386,"y":1.30},{"r":"D","c":4,"k":"blue","x":395,"y":1.68},{"r":"D","c":4,"k":"blue","x":402,"y":1.89},{"r":"D","c":4,"k":"blue","x":408,"y":1.72},{"r":"D","c":4,"k":"blue","x":415,"y":1.45},{"r":"D","c":4,"k":"blue","x":423,"y":1.12},{"r":"D","c":4,"k":"blue","x":431,"y":0.86},{"r":"D","c":4,"k":"blue","x":440,"y":0.60},{"r":"D","c":4,"k":"blue","x":450,"y":0.40},{"r":"D","c":4,"k":"blue","x":462,"y":0.24},{"r":"D","c":4,"k":"blue","x":475,"y":0.14},{"r":"D","c":4,"k":"blue","x":490,"y":0.08},{"r":"D","c":4,"k":"blue","x":510,"y":0.045},{"r":"D","c":4,"k":"blue","x":550,"y":0.016},{"r":"D","c":4,"k":"blue","x":700,"y":0},

{"r":"A","c":1,"k":"red","x":250,"y":0.37},{"r":"A","c":1,"k":"red","x":280,"y":0.28},{"r":"A","c":1,"k":"red","x":308,"y":0.14},{"r":"A","c":1,"k":"red","x":320,"y":0.105},{"r":"A","c":1,"k":"red","x":332,"y":0.13},{"r":"A","c":1,"k":"red","x":345,"y":0.22},{"r":"A","c":1,"k":"red","x":356,"y":0.40},{"r":"A","c":1,"k":"red","x":366,"y":0.66},{"r":"A","c":1,"k":"red","x":376,"y":1.0},{"r":"A","c":1,"k":"red","x":385,"y":1.38},{"r":"A","c":1,"k":"red","x":392,"y":1.63},{"r":"A","c":1,"k":"red","x":398,"y":1.57},{"r":"A","c":1,"k":"red","x":405,"y":1.36},{"r":"A","c":1,"k":"red","x":412,"y":1.10},{"r":"A","c":1,"k":"red","x":420,"y":0.83},{"r":"A","c":1,"k":"red","x":428,"y":0.60},{"r":"A","c":1,"k":"red","x":438,"y":0.38},{"r":"A","c":1,"k":"red","x":450,"y":0.21},{"r":"A","c":1,"k":"red","x":465,"y":0.12},{"r":"A","c":1,"k":"red","x":485,"y":0.065},{"r":"A","c":1,"k":"red","x":520,"y":0.027},{"r":"A","c":1,"k":"red","x":600,"y":0.005},{"r":"A","c":1,"k":"red","x":700,"y":0},
{"r":"A","c":2,"k":"red","x":250,"y":0.37},{"r":"A","c":2,"k":"red","x":280,"y":0.28},{"r":"A","c":2,"k":"red","x":308,"y":0.14},{"r":"A","c":2,"k":"red","x":320,"y":0.105},{"r":"A","c":2,"k":"red","x":332,"y":0.13},{"r":"A","c":2,"k":"red","x":345,"y":0.22},{"r":"A","c":2,"k":"red","x":356,"y":0.40},{"r":"A","c":2,"k":"red","x":366,"y":0.66},{"r":"A","c":2,"k":"red","x":376,"y":1.0},{"r":"A","c":2,"k":"red","x":385,"y":1.38},{"r":"A","c":2,"k":"red","x":392,"y":1.63},{"r":"A","c":2,"k":"red","x":398,"y":1.57},{"r":"A","c":2,"k":"red","x":405,"y":1.36},{"r":"A","c":2,"k":"red","x":412,"y":1.10},{"r":"A","c":2,"k":"red","x":420,"y":0.83},{"r":"A","c":2,"k":"red","x":428,"y":0.60},{"r":"A","c":2,"k":"red","x":438,"y":0.38},{"r":"A","c":2,"k":"red","x":450,"y":0.21},{"r":"A","c":2,"k":"red","x":465,"y":0.12},{"r":"A","c":2,"k":"red","x":485,"y":0.065},{"r":"A","c":2,"k":"red","x":520,"y":0.027},{"r":"A","c":2,"k":"red","x":600,"y":0.005},{"r":"A","c":2,"k":"red","x":700,"y":0},
{"r":"A","c":3,"k":"red","x":250,"y":0.37},{"r":"A","c":3,"k":"red","x":280,"y":0.28},{"r":"A","c":3,"k":"red","x":308,"y":0.14},{"r":"A","c":3,"k":"red","x":320,"y":0.105},{"r":"A","c":3,"k":"red","x":332,"y":0.13},{"r":"A","c":3,"k":"red","x":345,"y":0.22},{"r":"A","c":3,"k":"red","x":356,"y":0.40},{"r":"A","c":3,"k":"red","x":366,"y":0.66},{"r":"A","c":3,"k":"red","x":376,"y":1.0},{"r":"A","c":3,"k":"red","x":385,"y":1.38},{"r":"A","c":3,"k":"red","x":392,"y":1.63},{"r":"A","c":3,"k":"red","x":398,"y":1.57},{"r":"A","c":3,"k":"red","x":405,"y":1.36},{"r":"A","c":3,"k":"red","x":412,"y":1.10},{"r":"A","c":3,"k":"red","x":420,"y":0.83},{"r":"A","c":3,"k":"red","x":428,"y":0.60},{"r":"A","c":3,"k":"red","x":438,"y":0.38},{"r":"A","c":3,"k":"red","x":450,"y":0.21},{"r":"A","c":3,"k":"red","x":465,"y":0.12},{"r":"A","c":3,"k":"red","x":485,"y":0.065},{"r":"A","c":3,"k":"red","x":520,"y":0.027},{"r":"A","c":3,"k":"red","x":600,"y":0.005},{"r":"A","c":3,"k":"red","x":700,"y":0},
{"r":"A","c":4,"k":"red","x":250,"y":0.37},{"r":"A","c":4,"k":"red","x":280,"y":0.28},{"r":"A","c":4,"k":"red","x":308,"y":0.14},{"r":"A","c":4,"k":"red","x":320,"y":0.105},{"r":"A","c":4,"k":"red","x":332,"y":0.13},{"r":"A","c":4,"k":"red","x":345,"y":0.22},{"r":"A","c":4,"k":"red","x":356,"y":0.40},{"r":"A","c":4,"k":"red","x":366,"y":0.66},{"r":"A","c":4,"k":"red","x":376,"y":1.0},{"r":"A","c":4,"k":"red","x":385,"y":1.38},{"r":"A","c":4,"k":"red","x":392,"y":1.63},{"r":"A","c":4,"k":"red","x":398,"y":1.57},{"r":"A","c":4,"k":"red","x":405,"y":1.36},{"r":"A","c":4,"k":"red","x":412,"y":1.10},{"r":"A","c":4,"k":"red","x":420,"y":0.83},{"r":"A","c":4,"k":"red","x":428,"y":0.60},{"r":"A","c":4,"k":"red","x":438,"y":0.38},{"r":"A","c":4,"k":"red","x":450,"y":0.21},{"r":"A","c":4,"k":"red","x":465,"y":0.12},{"r":"A","c":4,"k":"red","x":485,"y":0.065},{"r":"A","c":4,"k":"red","x":520,"y":0.027},{"r":"A","c":4,"k":"red","x":600,"y":0.005},{"r":"A","c":4,"k":"red","x":700,"y":0},
{"r":"B","c":1,"k":"red","x":250,"y":0.37},{"r":"B","c":1,"k":"red","x":280,"y":0.28},{"r":"B","c":1,"k":"red","x":308,"y":0.14},{"r":"B","c":1,"k":"red","x":320,"y":0.105},{"r":"B","c":1,"k":"red","x":332,"y":0.13},{"r":"B","c":1,"k":"red","x":345,"y":0.22},{"r":"B","c":1,"k":"red","x":356,"y":0.40},{"r":"B","c":1,"k":"red","x":366,"y":0.66},{"r":"B","c":1,"k":"red","x":376,"y":1.0},{"r":"B","c":1,"k":"red","x":385,"y":1.38},{"r":"B","c":1,"k":"red","x":392,"y":1.63},{"r":"B","c":1,"k":"red","x":398,"y":1.57},{"r":"B","c":1,"k":"red","x":405,"y":1.36},{"r":"B","c":1,"k":"red","x":412,"y":1.10},{"r":"B","c":1,"k":"red","x":420,"y":0.83},{"r":"B","c":1,"k":"red","x":428,"y":0.60},{"r":"B","c":1,"k":"red","x":438,"y":0.38},{"r":"B","c":1,"k":"red","x":450,"y":0.21},{"r":"B","c":1,"k":"red","x":465,"y":0.12},{"r":"B","c":1,"k":"red","x":485,"y":0.065},{"r":"B","c":1,"k":"red","x":520,"y":0.027},{"r":"B","c":1,"k":"red","x":600,"y":0.005},{"r":"B","c":1,"k":"red","x":700,"y":0},
{"r":"B","c":2,"k":"red","x":250,"y":0.37},{"r":"B","c":2,"k":"red","x":280,"y":0.28},{"r":"B","c":2,"k":"red","x":308,"y":0.14},{"r":"B","c":2,"k":"red","x":320,"y":0.105},{"r":"B","c":2,"k":"red","x":332,"y":0.13},{"r":"B","c":2,"k":"red","x":345,"y":0.22},{"r":"B","c":2,"k":"red","x":356,"y":0.40},{"r":"B","c":2,"k":"red","x":366,"y":0.66},{"r":"B","c":2,"k":"red","x":376,"y":1.0},{"r":"B","c":2,"k":"red","x":385,"y":1.38},{"r":"B","c":2,"k":"red","x":392,"y":1.63},{"r":"B","c":2,"k":"red","x":398,"y":1.57},{"r":"B","c":2,"k":"red","x":405,"y":1.36},{"r":"B","c":2,"k":"red","x":412,"y":1.10},{"r":"B","c":2,"k":"red","x":420,"y":0.83},{"r":"B","c":2,"k":"red","x":428,"y":0.60},{"r":"B","c":2,"k":"red","x":438,"y":0.38},{"r":"B","c":2,"k":"red","x":450,"y":0.21},{"r":"B","c":2,"k":"red","x":465,"y":0.12},{"r":"B","c":2,"k":"red","x":485,"y":0.065},{"r":"B","c":2,"k":"red","x":520,"y":0.027},{"r":"B","c":2,"k":"red","x":600,"y":0.005},{"r":"B","c":2,"k":"red","x":700,"y":0},
{"r":"B","c":3,"k":"red","x":250,"y":0.37},{"r":"B","c":3,"k":"red","x":280,"y":0.28},{"r":"B","c":3,"k":"red","x":308,"y":0.14},{"r":"B","c":3,"k":"red","x":320,"y":0.105},{"r":"B","c":3,"k":"red","x":332,"y":0.13},{"r":"B","c":3,"k":"red","x":345,"y":0.22},{"r":"B","c":3,"k":"red","x":356,"y":0.40},{"r":"B","c":3,"k":"red","x":366,"y":0.66},{"r":"B","c":3,"k":"red","x":376,"y":1.0},{"r":"B","c":3,"k":"red","x":385,"y":1.38},{"r":"B","c":3,"k":"red","x":392,"y":1.63},{"r":"B","c":3,"k":"red","x":398,"y":1.57},{"r":"B","c":3,"k":"red","x":405,"y":1.36},{"r":"B","c":3,"k":"red","x":412,"y":1.10},{"r":"B","c":3,"k":"red","x":420,"y":0.83},{"r":"B","c":3,"k":"red","x":428,"y":0.60},{"r":"B","c":3,"k":"red","x":438,"y":0.38},{"r":"B","c":3,"k":"red","x":450,"y":0.21},{"r":"B","c":3,"k":"red","x":465,"y":0.12},{"r":"B","c":3,"k":"red","x":485,"y":0.065},{"r":"B","c":3,"k":"red","x":520,"y":0.027},{"r":"B","c":3,"k":"red","x":600,"y":0.005},{"r":"B","c":3,"k":"red","x":700,"y":0},
{"r":"B","c":4,"k":"red","x":250,"y":0.37},{"r":"B","c":4,"k":"red","x":280,"y":0.28},{"r":"B","c":4,"k":"red","x":308,"y":0.14},{"r":"B","c":4,"k":"red","x":320,"y":0.105},{"r":"B","c":4,"k":"red","x":332,"y":0.13},{"r":"B","c":4,"k":"red","x":345,"y":0.22},{"r":"B","c":4,"k":"red","x":356,"y":0.40},{"r":"B","c":4,"k":"red","x":366,"y":0.66},{"r":"B","c":4,"k":"red","x":376,"y":1.0},{"r":"B","c":4,"k":"red","x":385,"y":1.38},{"r":"B","c":4,"k":"red","x":392,"y":1.63},{"r":"B","c":4,"k":"red","x":398,"y":1.57},{"r":"B","c":4,"k":"red","x":405,"y":1.36},{"r":"B","c":4,"k":"red","x":412,"y":1.10},{"r":"B","c":4,"k":"red","x":420,"y":0.83},{"r":"B","c":4,"k":"red","x":428,"y":0.60},{"r":"B","c":4,"k":"red","x":438,"y":0.38},{"r":"B","c":4,"k":"red","x":450,"y":0.21},{"r":"B","c":4,"k":"red","x":465,"y":0.12},{"r":"B","c":4,"k":"red","x":485,"y":0.065},{"r":"B","c":4,"k":"red","x":520,"y":0.027},{"r":"B","c":4,"k":"red","x":600,"y":0.005},{"r":"B","c":4,"k":"red","x":700,"y":0},
{"r":"C","c":1,"k":"red","x":250,"y":0.37},{"r":"C","c":1,"k":"red","x":280,"y":0.28},{"r":"C","c":1,"k":"red","x":308,"y":0.14},{"r":"C","c":1,"k":"red","x":320,"y":0.105},{"r":"C","c":1,"k":"red","x":332,"y":0.13},{"r":"C","c":1,"k":"red","x":345,"y":0.22},{"r":"C","c":1,"k":"red","x":356,"y":0.40},{"r":"C","c":1,"k":"red","x":366,"y":0.66},{"r":"C","c":1,"k":"red","x":376,"y":1.0},{"r":"C","c":1,"k":"red","x":385,"y":1.38},{"r":"C","c":1,"k":"red","x":392,"y":1.63},{"r":"C","c":1,"k":"red","x":398,"y":1.57},{"r":"C","c":1,"k":"red","x":405,"y":1.36},{"r":"C","c":1,"k":"red","x":412,"y":1.10},{"r":"C","c":1,"k":"red","x":420,"y":0.83},{"r":"C","c":1,"k":"red","x":428,"y":0.60},{"r":"C","c":1,"k":"red","x":438,"y":0.38},{"r":"C","c":1,"k":"red","x":450,"y":0.21},{"r":"C","c":1,"k":"red","x":465,"y":0.12},{"r":"C","c":1,"k":"red","x":485,"y":0.065},{"r":"C","c":1,"k":"red","x":520,"y":0.027},{"r":"C","c":1,"k":"red","x":600,"y":0.005},{"r":"C","c":1,"k":"red","x":700,"y":0},
{"r":"C","c":2,"k":"red","x":250,"y":0.37},{"r":"C","c":2,"k":"red","x":280,"y":0.28},{"r":"C","c":2,"k":"red","x":308,"y":0.14},{"r":"C","c":2,"k":"red","x":320,"y":0.105},{"r":"C","c":2,"k":"red","x":332,"y":0.13},{"r":"C","c":2,"k":"red","x":345,"y":0.22},{"r":"C","c":2,"k":"red","x":356,"y":0.40},{"r":"C","c":2,"k":"red","x":366,"y":0.66},{"r":"C","c":2,"k":"red","x":376,"y":1.0},{"r":"C","c":2,"k":"red","x":385,"y":1.38},{"r":"C","c":2,"k":"red","x":392,"y":1.63},{"r":"C","c":2,"k":"red","x":398,"y":1.57},{"r":"C","c":2,"k":"red","x":405,"y":1.36},{"r":"C","c":2,"k":"red","x":412,"y":1.10},{"r":"C","c":2,"k":"red","x":420,"y":0.83},{"r":"C","c":2,"k":"red","x":428,"y":0.60},{"r":"C","c":2,"k":"red","x":438,"y":0.38},{"r":"C","c":2,"k":"red","x":450,"y":0.21},{"r":"C","c":2,"k":"red","x":465,"y":0.12},{"r":"C","c":2,"k":"red","x":485,"y":0.065},{"r":"C","c":2,"k":"red","x":520,"y":0.027},{"r":"C","c":2,"k":"red","x":600,"y":0.005},{"r":"C","c":2,"k":"red","x":700,"y":0},
{"r":"C","c":3,"k":"red","x":250,"y":0.37},{"r":"C","c":3,"k":"red","x":280,"y":0.28},{"r":"C","c":3,"k":"red","x":308,"y":0.14},{"r":"C","c":3,"k":"red","x":320,"y":0.105},{"r":"C","c":3,"k":"red","x":332,"y":0.13},{"r":"C","c":3,"k":"red","x":345,"y":0.22},{"r":"C","c":3,"k":"red","x":356,"y":0.40},{"r":"C","c":3,"k":"red","x":366,"y":0.66},{"r":"C","c":3,"k":"red","x":376,"y":1.0},{"r":"C","c":3,"k":"red","x":385,"y":1.38},{"r":"C","c":3,"k":"red","x":392,"y":1.63},{"r":"C","c":3,"k":"red","x":398,"y":1.57},{"r":"C","c":3,"k":"red","x":405,"y":1.36},{"r":"C","c":3,"k":"red","x":412,"y":1.10},{"r":"C","c":3,"k":"red","x":420,"y":0.83},{"r":"C","c":3,"k":"red","x":428,"y":0.60},{"r":"C","c":3,"k":"red","x":438,"y":0.38},{"r":"C","c":3,"k":"red","x":450,"y":0.21},{"r":"C","c":3,"k":"red","x":465,"y":0.12},{"r":"C","c":3,"k":"red","x":485,"y":0.065},{"r":"C","c":3,"k":"red","x":520,"y":0.027},{"r":"C","c":3,"k":"red","x":600,"y":0.005},{"r":"C","c":3,"k":"red","x":700,"y":0},
{"r":"C","c":4,"k":"red","x":250,"y":0.37},{"r":"C","c":4,"k":"red","x":280,"y":0.28},{"r":"C","c":4,"k":"red","x":308,"y":0.14},{"r":"C","c":4,"k":"red","x":320,"y":0.105},{"r":"C","c":4,"k":"red","x":332,"y":0.13},{"r":"C","c":4,"k":"red","x":345,"y":0.22},{"r":"C","c":4,"k":"red","x":356,"y":0.40},{"r":"C","c":4,"k":"red","x":366,"y":0.66},{"r":"C","c":4,"k":"red","x":376,"y":1.0},{"r":"C","c":4,"k":"red","x":385,"y":1.38},{"r":"C","c":4,"k":"red","x":392,"y":1.63},{"r":"C","c":4,"k":"red","x":398,"y":1.57},{"r":"C","c":4,"k":"red","x":405,"y":1.36},{"r":"C","c":4,"k":"red","x":412,"y":1.10},{"r":"C","c":4,"k":"red","x":420,"y":0.83},{"r":"C","c":4,"k":"red","x":428,"y":0.60},{"r":"C","c":4,"k":"red","x":438,"y":0.38},{"r":"C","c":4,"k":"red","x":450,"y":0.21},{"r":"C","c":4,"k":"red","x":465,"y":0.12},{"r":"C","c":4,"k":"red","x":485,"y":0.065},{"r":"C","c":4,"k":"red","x":520,"y":0.027},{"r":"C","c":4,"k":"red","x":600,"y":0.005},{"r":"C","c":4,"k":"red","x":700,"y":0},
{"r":"D","c":1,"k":"red","x":250,"y":0.37},{"r":"D","c":1,"k":"red","x":280,"y":0.28},{"r":"D","c":1,"k":"red","x":308,"y":0.14},{"r":"D","c":1,"k":"red","x":320,"y":0.105},{"r":"D","c":1,"k":"red","x":332,"y":0.13},{"r":"D","c":1,"k":"red","x":345,"y":0.22},{"r":"D","c":1,"k":"red","x":356,"y":0.40},{"r":"D","c":1,"k":"red","x":366,"y":0.66},{"r":"D","c":1,"k":"red","x":376,"y":1.0},{"r":"D","c":1,"k":"red","x":385,"y":1.38},{"r":"D","c":1,"k":"red","x":392,"y":1.63},{"r":"D","c":1,"k":"red","x":398,"y":1.57},{"r":"D","c":1,"k":"red","x":405,"y":1.36},{"r":"D","c":1,"k":"red","x":412,"y":1.10},{"r":"D","c":1,"k":"red","x":420,"y":0.83},{"r":"D","c":1,"k":"red","x":428,"y":0.60},{"r":"D","c":1,"k":"red","x":438,"y":0.38},{"r":"D","c":1,"k":"red","x":450,"y":0.21},{"r":"D","c":1,"k":"red","x":465,"y":0.12},{"r":"D","c":1,"k":"red","x":485,"y":0.065},{"r":"D","c":1,"k":"red","x":520,"y":0.027},{"r":"D","c":1,"k":"red","x":600,"y":0.005},{"r":"D","c":1,"k":"red","x":700,"y":0},
{"r":"D","c":2,"k":"red","x":250,"y":0.37},{"r":"D","c":2,"k":"red","x":280,"y":0.28},{"r":"D","c":2,"k":"red","x":308,"y":0.14},{"r":"D","c":2,"k":"red","x":320,"y":0.105},{"r":"D","c":2,"k":"red","x":332,"y":0.13},{"r":"D","c":2,"k":"red","x":345,"y":0.22},{"r":"D","c":2,"k":"red","x":356,"y":0.40},{"r":"D","c":2,"k":"red","x":366,"y":0.66},{"r":"D","c":2,"k":"red","x":376,"y":1.0},{"r":"D","c":2,"k":"red","x":385,"y":1.38},{"r":"D","c":2,"k":"red","x":392,"y":1.63},{"r":"D","c":2,"k":"red","x":398,"y":1.57},{"r":"D","c":2,"k":"red","x":405,"y":1.36},{"r":"D","c":2,"k":"red","x":412,"y":1.10},{"r":"D","c":2,"k":"red","x":420,"y":0.83},{"r":"D","c":2,"k":"red","x":428,"y":0.60},{"r":"D","c":2,"k":"red","x":438,"y":0.38},{"r":"D","c":2,"k":"red","x":450,"y":0.21},{"r":"D","c":2,"k":"red","x":465,"y":0.12},{"r":"D","c":2,"k":"red","x":485,"y":0.065},{"r":"D","c":2,"k":"red","x":520,"y":0.027},{"r":"D","c":2,"k":"red","x":600,"y":0.005},{"r":"D","c":2,"k":"red","x":700,"y":0},
{"r":"D","c":3,"k":"red","x":250,"y":0.37},{"r":"D","c":3,"k":"red","x":280,"y":0.28},{"r":"D","c":3,"k":"red","x":308,"y":0.14},{"r":"D","c":3,"k":"red","x":320,"y":0.105},{"r":"D","c":3,"k":"red","x":332,"y":0.13},{"r":"D","c":3,"k":"red","x":345,"y":0.22},{"r":"D","c":3,"k":"red","x":356,"y":0.40},{"r":"D","c":3,"k":"red","x":366,"y":0.66},{"r":"D","c":3,"k":"red","x":376,"y":1.0},{"r":"D","c":3,"k":"red","x":385,"y":1.38},{"r":"D","c":3,"k":"red","x":392,"y":1.63},{"r":"D","c":3,"k":"red","x":398,"y":1.57},{"r":"D","c":3,"k":"red","x":405,"y":1.36},{"r":"D","c":3,"k":"red","x":412,"y":1.10},{"r":"D","c":3,"k":"red","x":420,"y":0.83},{"r":"D","c":3,"k":"red","x":428,"y":0.60},{"r":"D","c":3,"k":"red","x":438,"y":0.38},{"r":"D","c":3,"k":"red","x":450,"y":0.21},{"r":"D","c":3,"k":"red","x":465,"y":0.12},{"r":"D","c":3,"k":"red","x":485,"y":0.065},{"r":"D","c":3,"k":"red","x":520,"y":0.027},{"r":"D","c":3,"k":"red","x":600,"y":0.005},{"r":"D","c":3,"k":"red","x":700,"y":0},
{"r":"D","c":4,"k":"red","x":250,"y":0.37},{"r":"D","c":4,"k":"red","x":280,"y":0.28},{"r":"D","c":4,"k":"red","x":308,"y":0.14},{"r":"D","c":4,"k":"red","x":320,"y":0.105},{"r":"D","c":4,"k":"red","x":332,"y":0.13},{"r":"D","c":4,"k":"red","x":345,"y":0.22},{"r":"D","c":4,"k":"red","x":356,"y":0.40},{"r":"D","c":4,"k":"red","x":366,"y":0.66},{"r":"D","c":4,"k":"red","x":376,"y":1.0},{"r":"D","c":4,"k":"red","x":385,"y":1.38},{"r":"D","c":4,"k":"red","x":392,"y":1.63},{"r":"D","c":4,"k":"red","x":398,"y":1.57},{"r":"D","c":4,"k":"red","x":405,"y":1.36},{"r":"D","c":4,"k":"red","x":412,"y":1.10},{"r":"D","c":4,"k":"red","x":420,"y":0.83},{"r":"D","c":4,"k":"red","x":428,"y":0.60},{"r":"D","c":4,"k":"red","x":438,"y":0.38},{"r":"D","c":4,"k":"red","x":450,"y":0.21},{"r":"D","c":4,"k":"red","x":465,"y":0.12},{"r":"D","c":4,"k":"red","x":485,"y":0.065},{"r":"D","c":4,"k":"red","x":520,"y":0.027},{"r":"D","c":4,"k":"red","x":600,"y":0.005},{"r":"D","c":4,"k":"red","x":700,"y":0}
]
},
"hconcat": [
{
  "data": {"name": "spec"},
  "facet": {
    "row": {"field": "r", "type": "nominal", "title": null, "header": {"labels": false}},
    "column": {"field": "c", "type": "ordinal", "title": "Wavelength (nm)", "header": {"labels": false, "titleOrient": "bottom", "titlePadding": -9}}
  },
  "spacing": {"row": 0, "column": 0},
  "spec": {
    "width": 233, "height": 243,
    "layer": [
      {"transform": [{"filter": "datum.k == 'band'"}], "mark": {"type": "area", "color": "#33507c", "opacity": 0.9, "clip": true, "interpolate": "monotone"},
       "encoding": {
         "x": {"field": "x", "type": "quantitative", "scale": {"domain": [250, 700], "nice": false, "zero": false}, "axis": {"title": null, "labelPadding": 12, "values": [300, 375, 450, 525, 600, 675], "labelExpr": "datum.value % 150 == 0 ? format(datum.value, 'd') : ''"}},
         "y": {"field": "y", "type": "quantitative", "scale": {"domain": [-0.04, 1.93], "nice": false, "zero": false}, "axis": {"title": null, "values": [0, 0.4, 0.8, 1.2, 1.6], "labelExpr": "abs(datum.value - 0.4) < 0.01 || abs(datum.value - 1.2) < 0.01 ? '' : format(datum.value, '.1f')"}},
         "y2": {"field": "y2"}
       }},
      {"transform": [{"filter": "datum.k == 'blue'"}], "mark": {"type": "line", "color": "#3a6ebd", "strokeWidth": 2, "clip": true, "interpolate": "monotone"},
       "encoding": {
         "x": {"field": "x", "type": "quantitative", "axis": {"title": null, "labelPadding": 12, "values": [300, 375, 450, 525, 600, 675], "labelExpr": "datum.value % 150 == 0 ? format(datum.value, 'd') : ''"}},
         "y": {"field": "y", "type": "quantitative", "axis": {"title": null, "values": [0, 0.4, 0.8, 1.2, 1.6], "labelExpr": "abs(datum.value - 0.4) < 0.01 || abs(datum.value - 1.2) < 0.01 ? '' : format(datum.value, '.1f')"}}
       }},
      {"transform": [{"filter": "datum.k == 'red'"}], "mark": {"type": "line", "color": "#ff0000", "strokeWidth": 3.5, "clip": true, "interpolate": "monotone"},
       "encoding": {
         "x": {"field": "x", "type": "quantitative", "axis": {"title": null, "labelPadding": 12, "values": [300, 375, 450, 525, 600, 675], "labelExpr": "datum.value % 150 == 0 ? format(datum.value, 'd') : ''"}},
         "y": {"field": "y", "type": "quantitative", "axis": {"title": null, "values": [0, 0.4, 0.8, 1.2, 1.6], "labelExpr": "abs(datum.value - 0.4) < 0.01 || abs(datum.value - 1.2) < 0.01 ? '' : format(datum.value, '.1f')"}}
       }},
      {"transform": [{"filter": "datum.k == 'lab'"}], "mark": {"type": "text", "align": "left", "baseline": "alphabetic", "fontSize": 28}, "encoding": {"x": {"datum": 285}, "y": {"datum": 1.6}, "text": {"field": "L"}}},
      {"transform": [{"filter": "datum.k == 'lab'"}], "mark": {"type": "text", "align": "left", "baseline": "alphabetic", "fontSize": 19, "dx": 21, "dy": 12}, "encoding": {"x": {"datum": 285}, "y": {"datum": 1.6}, "text": {"field": "Ls"}}},
      {"transform": [{"filter": "datum.k == 'lab'"}], "mark": {"type": "text", "align": "right", "baseline": "alphabetic", "fontSize": 31}, "encoding": {"x": {"datum": 640}, "y": {"datum": 1.02}, "text": {"field": "N"}}},
      {"transform": [{"filter": "datum.k == 'lab'"}], "mark": {"type": "text", "align": "left", "baseline": "alphabetic", "fontSize": 21, "dx": 2, "dy": 9}, "encoding": {"x": {"datum": 640}, "y": {"datum": 1.02}, "text": {"field": "Ns"}}},
      {"transform": [{"filter": "datum.k == 'lab'"}], "mark": {"type": "text", "align": "right", "baseline": "alphabetic", "fontSize": 32}, "encoding": {"x": {"datum": 677}, "y": {"datum": 0.44}, "text": {"field": "C"}}}
    ]
  }
},
{
  "spacing": 0,
  "vconcat": [
    {
      "width": 221, "height": 243, "view": {"stroke": null},
      "layer": [
        {"data": {"name": "time"}, "transform": [{"filter": "datum.r == 'A' && datum.s != 'S'"}],
         "mark": {"type": "line", "strokeWidth": 7, "clip": true, "interpolate": "monotone"},
         "encoding": {
           "x": {"field": "t", "type": "quantitative", "scale": {"domain": [-75, 960], "nice": false, "zero": false}, "axis": {"orient": "bottom", "title": null, "labels": false, "domain": true, "domainColor": "#000", "domainWidth": 2, "tickColor": "#000", "values": [0, 175, 350, 525, 700, 875]}},
           "y": {"field": "v", "type": "quantitative", "scale": {"domain": [1.1, 2.0], "nice": false, "zero": false}, "axis": {"title": null, "domain": true, "domainColor": "#000", "domainWidth": 2, "tickColor": "#000", "values": [1.2, 1.35, 1.5, 1.65, 1.8, 1.95], "labelExpr": "abs(datum.value - 1.35) < 0.01 || abs(datum.value - 1.65) < 0.01 || abs(datum.value - 1.95) < 0.01 ? '' : format(datum.value, '.1f')"}},
           "color": {"field": "s", "type": "nominal", "scale": {"domain": ["K", "G", "B", "M"], "range": ["#000000", "#00ff00", "#0000ff", "#ff00ff"]}, "legend": null}
         }},
        {"data": {"name": "time"}, "transform": [{"filter": "datum.r == 'A' && datum.s == 'S'"}],
         "mark": {"type": "square", "size": 100, "color": "#ff0000", "opacity": 1},
         "encoding": {"x": {"field": "t", "type": "quantitative", "axis": {"orient": "top", "title": null, "labels": false, "domain": true, "domainColor": "#000", "domainWidth": 2, "tickColor": "#000", "values": [0, 175, 350, 525, 700, 875]}}, "y": {"field": "v", "type": "quantitative"}}},
        {"data": {"values": [{}]}, "mark": {"type": "text", "align": "left", "baseline": "alphabetic", "fontSize": 28, "text": "A"}, "encoding": {"x": {"datum": 770, "axis": null}, "y": {"datum": 1.863}}},
        {"data": {"values": [{}]}, "mark": {"type": "text", "align": "left", "baseline": "alphabetic", "fontSize": 19, "text": "5", "dx": 22, "dy": 10}, "encoding": {"x": {"datum": 770, "axis": null}, "y": {"datum": 1.863}}},
        {"data": {"values": [{}]}, "mark": {"type": "text", "align": "right", "baseline": "alphabetic", "fontSize": 32, "text": "GB3"}, "encoding": {"x": {"datum": 341, "axis": null}, "y": {"datum": 1.32}}},
        {"data": {"values": [{}]}, "mark": {"type": "text", "align": "left", "baseline": "alphabetic", "fontSize": 22, "text": "0", "dx": 2, "dy": 9}, "encoding": {"x": {"datum": 341, "axis": null}, "y": {"datum": 1.32}}}
      ],
      "resolve": {"axis": {"x": "independent"}}
    },
    {
      "width": 221, "height": 243, "view": {"stroke": null},
      "layer": [
        {"data": {"name": "time"}, "transform": [{"filter": "datum.r == 'B' && datum.s != 'S'"}],
         "mark": {"type": "line", "strokeWidth": 7, "clip": true, "interpolate": "monotone"},
         "encoding": {
           "x": {"field": "t", "type": "quantitative", "scale": {"domain": [-75, 960], "nice": false, "zero": false}, "axis": {"orient": "bottom", "title": null, "labels": false, "domain": true, "domainColor": "#000", "domainWidth": 2, "tickColor": "#000", "values": [0, 175, 350, 525, 700, 875]}},
           "y": {"field": "v", "type": "quantitative", "scale": {"domain": [1.1, 2.0], "nice": false, "zero": false}, "axis": {"title": null, "domain": true, "domainColor": "#000", "domainWidth": 2, "tickColor": "#000", "values": [1.2, 1.35, 1.5, 1.65, 1.8, 1.95], "labelExpr": "abs(datum.value - 1.35) < 0.01 || abs(datum.value - 1.65) < 0.01 || abs(datum.value - 1.95) < 0.01 ? '' : format(datum.value, '.1f')"}},
           "color": {"field": "s", "type": "nominal", "scale": {"domain": ["K", "G", "B", "M"], "range": ["#000000", "#00ff00", "#0000ff", "#ff00ff"]}, "legend": null}
         }},
        {"data": {"name": "time"}, "transform": [{"filter": "datum.r == 'B' && datum.s == 'S'"}],
         "mark": {"type": "square", "size": 100, "color": "#ff0000", "opacity": 1},
         "encoding": {"x": {"field": "t", "type": "quantitative", "axis": {"orient": "top", "title": null, "labels": false, "domain": true, "domainColor": "#000", "domainWidth": 2, "tickColor": "#000", "values": [0, 175, 350, 525, 700, 875]}}, "y": {"field": "v", "type": "quantitative"}}},
        {"data": {"values": [{}]}, "mark": {"type": "text", "align": "left", "baseline": "alphabetic", "fontSize": 28, "text": "B"}, "encoding": {"x": {"datum": 747, "axis": null}, "y": {"datum": 1.848}}},
        {"data": {"values": [{}]}, "mark": {"type": "text", "align": "left", "baseline": "alphabetic", "fontSize": 19, "text": "5", "dx": 22, "dy": 10}, "encoding": {"x": {"datum": 747, "axis": null}, "y": {"datum": 1.848}}},
        {"data": {"values": [{}]}, "mark": {"type": "text", "align": "right", "baseline": "alphabetic", "fontSize": 32, "text": "GB3"}, "encoding": {"x": {"datum": 336, "axis": null}, "y": {"datum": 1.339}}},
        {"data": {"values": [{}]}, "mark": {"type": "text", "align": "left", "baseline": "alphabetic", "fontSize": 22, "text": "1", "dx": 2, "dy": 9}, "encoding": {"x": {"datum": 336, "axis": null}, "y": {"datum": 1.339}}}
      ],
      "resolve": {"axis": {"x": "independent"}}
    },
    {
      "width": 221, "height": 243, "view": {"stroke": null},
      "layer": [
        {"data": {"name": "time"}, "transform": [{"filter": "datum.r == 'C' && datum.s != 'S'"}],
         "mark": {"type": "line", "strokeWidth": 7, "clip": true, "interpolate": "monotone"},
         "encoding": {
           "x": {"field": "t", "type": "quantitative", "scale": {"domain": [-75, 960], "nice": false, "zero": false}, "axis": {"orient": "bottom", "title": null, "labels": false, "domain": true, "domainColor": "#000", "domainWidth": 2, "tickColor": "#000", "values": [0, 175, 350, 525, 700, 875]}},
           "y": {"field": "v", "type": "quantitative", "scale": {"domain": [1.1, 1.9], "nice": false, "zero": false}, "axis": {"title": null, "domain": true, "domainColor": "#000", "domainWidth": 2, "tickColor": "#000", "values": [1.2, 1.3, 1.4, 1.5, 1.6, 1.7, 1.8], "labelExpr": "round(datum.value * 10) % 2 == 0 ? format(datum.value, '.1f') : ''"}},
           "color": {"field": "s", "type": "nominal", "scale": {"domain": ["K", "G", "B", "M"], "range": ["#000000", "#00ff00", "#0000ff", "#ff00ff"]}, "legend": null}
         }},
        {"data": {"name": "time"}, "transform": [{"filter": "datum.r == 'C' && datum.s == 'S'"}],
         "mark": {"type": "square", "size": 100, "color": "#ff0000", "opacity": 1},
         "encoding": {"x": {"field": "t", "type": "quantitative", "axis": {"orient": "top", "title": null, "labels": false, "domain": true, "domainColor": "#000", "domainWidth": 2, "tickColor": "#000", "values": [0, 175, 350, 525, 700, 875]}}, "y": {"field": "v", "type": "quantitative"}}},
        {"data": {"values": [{}]}, "mark": {"type": "text", "align": "left", "baseline": "alphabetic", "fontSize": 28, "text": "C"}, "encoding": {"x": {"datum": 779, "axis": null}, "y": {"datum": 1.784}}},
        {"data": {"values": [{}]}, "mark": {"type": "text", "align": "left", "baseline": "alphabetic", "fontSize": 19, "text": "5", "dx": 22, "dy": 10}, "encoding": {"x": {"datum": 779, "axis": null}, "y": {"datum": 1.784}}},
        {"data": {"values": [{}]}, "mark": {"type": "text", "align": "right", "baseline": "alphabetic", "fontSize": 32, "text": "GB3"}, "encoding": {"x": {"datum": 359, "axis": null}, "y": {"datum": 1.265}}},
        {"data": {"values": [{}]}, "mark": {"type": "text", "align": "left", "baseline": "alphabetic", "fontSize": 22, "text": "2", "dx": 2, "dy": 9}, "encoding": {"x": {"datum": 359, "axis": null}, "y": {"datum": 1.265}}}
      ],
      "resolve": {"axis": {"x": "independent"}}
    },
    {
      "width": 221, "height": 243, "view": {"stroke": null},
      "layer": [
        {"data": {"name": "time"}, "transform": [{"filter": "datum.r == 'D' && datum.s != 'S'"}],
         "mark": {"type": "line", "strokeWidth": 7, "clip": true, "interpolate": "monotone"},
         "encoding": {
           "x": {"field": "t", "type": "quantitative", "scale": {"domain": [-75, 960], "nice": false, "zero": false}, "axis": {"orient": "bottom", "title": "Time (s)", "titlePadding": 0, "labelPadding": 12, "domain": true, "domainColor": "#000", "domainWidth": 2, "tickColor": "#000", "values": [0, 175, 350, 525, 700, 875], "labelExpr": "datum.value % 350 == 0 ? format(datum.value, 'd') : ''"}},
           "y": {"field": "v", "type": "quantitative", "scale": {"domain": [1.1, 2.0], "nice": false, "zero": false}, "axis": {"title": null, "domain": true, "domainColor": "#000", "domainWidth": 2, "tickColor": "#000", "values": [1.2, 1.35, 1.5, 1.65, 1.8, 1.95], "labelExpr": "abs(datum.value - 1.35) < 0.01 || abs(datum.value - 1.65) < 0.01 || abs(datum.value - 1.95) < 0.01 ? '' : format(datum.value, '.1f')"}},
           "color": {"field": "s", "type": "nominal", "scale": {"domain": ["K", "G", "B", "M"], "range": ["#000000", "#00ff00", "#0000ff", "#ff00ff"]}, "legend": null}
         }},
        {"data": {"name": "time"}, "transform": [{"filter": "datum.r == 'D' && datum.s == 'S'"}],
         "mark": {"type": "square", "size": 100, "color": "#ff0000", "opacity": 1},
         "encoding": {"x": {"field": "t", "type": "quantitative", "axis": {"orient": "top", "title": null, "labels": false, "domain": true, "domainColor": "#000", "domainWidth": 2, "tickColor": "#000", "values": [0, 175, 350, 525, 700, 875]}}, "y": {"field": "v", "type": "quantitative"}}},
        {"data": {"values": [{}]}, "mark": {"type": "text", "align": "left", "baseline": "alphabetic", "fontSize": 28, "text": "D"}, "encoding": {"x": {"datum": 770, "axis": null}, "y": {"datum": 1.86}}},
        {"data": {"values": [{}]}, "mark": {"type": "text", "align": "left", "baseline": "alphabetic", "fontSize": 19, "text": "5", "dx": 22, "dy": 10}, "encoding": {"x": {"datum": 770, "axis": null}, "y": {"datum": 1.86}}},
        {"data": {"values": [{}]}, "mark": {"type": "text", "align": "left", "baseline": "alphabetic", "fontSize": 32, "text": "BSA"}, "encoding": {"x": {"datum": 33, "axis": null}, "y": {"datum": 1.327}}}
      ],
      "resolve": {"axis": {"x": "independent"}}
    }
  ]
}
],
"spacing": 25
}
